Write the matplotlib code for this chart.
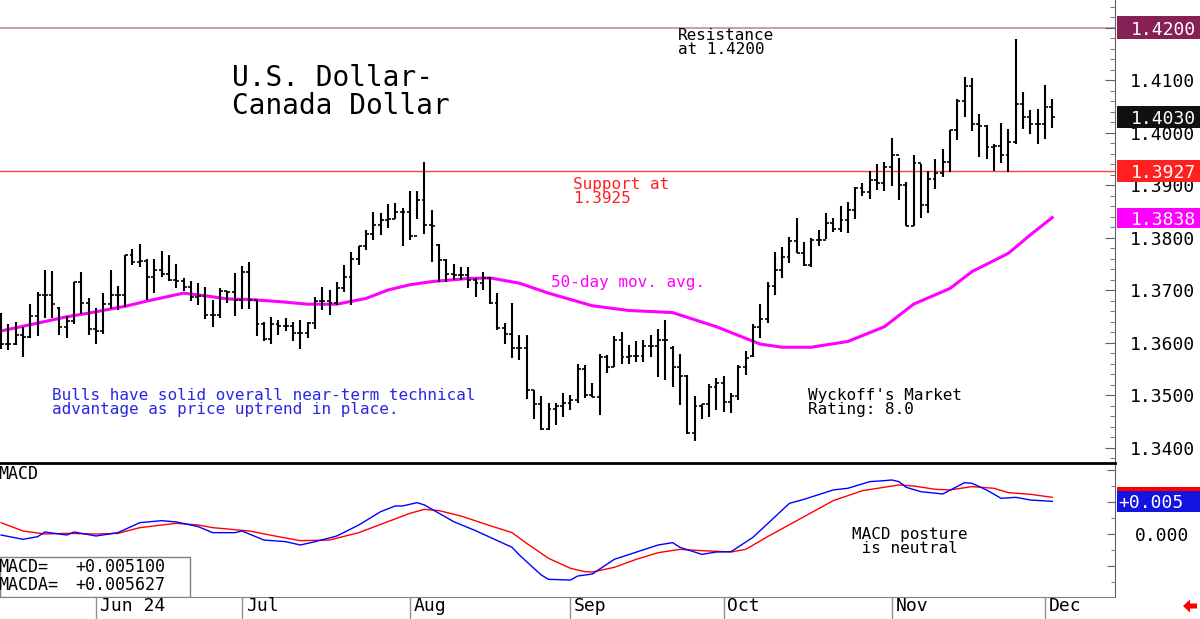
import matplotlib
matplotlib.use('Agg')
import matplotlib.pyplot as plt
import matplotlib.transforms as mtransforms
from matplotlib.patches import Rectangle, Polygon
from matplotlib.ticker import MultipleLocator, FuncFormatter, FormatStrFormatter
import numpy as np
import pandas as pd

# daily bars, 15 May 2024 .. 3 Dec 2024
dates = pd.bdate_range('2024-05-15', '2024-12-03')

opens = [1.3620, 1.3598, 1.3597, 1.3614, 1.3611, 1.3650, 1.3690, 1.3690, 1.3665, 1.3630,
         1.3641, 1.3716, 1.3676, 1.3626, 1.3622, 1.3673, 1.3691, 1.3691, 1.3767, 1.3754,
         1.3755, 1.3724, 1.3738, 1.3730, 1.3719, 1.3718, 1.3705, 1.3687, 1.3689, 1.3652,
         1.3652, 1.3698, 1.3697, 1.3681, 1.3734, 1.3681,
         1.3636, 1.3607, 1.3636, 1.3632, 1.3632, 1.3618, 1.3618, 1.3637, 1.3680, 1.3680,
         1.3675, 1.3703, 1.3725, 1.3760, 1.3783, 1.3807, 1.3824, 1.3833, 1.3835, 1.3849,
         1.3849, 1.3803, 1.3871, 1.3824, 1.3785, 1.3757, 1.3730, 1.3729, 1.3729, 1.3719,
         1.3713, 1.3722,
         1.3675, 1.3627, 1.3617, 1.3589, 1.3589, 1.3509, 1.3482, 1.3436, 1.3474, 1.3479,
         1.3485, 1.3490, 1.3549, 1.3500, 1.3497, 1.3573, 1.3554, 1.3605, 1.3572, 1.3574,
         1.3574, 1.3593, 1.3593, 1.3605, 1.3590, 1.3554, 1.3536, 1.3427, 1.3479, 1.3483,
         1.3516, 1.3522, 1.3487, 1.3498, 1.3554,
         1.3575, 1.3630, 1.3644, 1.3708, 1.3739, 1.3762, 1.3794, 1.3771, 1.3748, 1.3795,
         1.3795, 1.3827, 1.3816, 1.3833, 1.3852, 1.3894, 1.3887, 1.3910, 1.3903, 1.3935,
         1.3957, 1.3900, 1.3822, 1.3941, 1.3862, 1.3911, 1.3923, 1.3943, 1.4005, 1.4060,
         1.4089, 1.4016, 1.4012, 1.3973, 1.3974, 1.3957, 1.3982, 1.4054, 1.4029, 1.4016,
         1.4017, 1.4048]
highs = [1.3657, 1.3636, 1.3640, 1.3630, 1.3673, 1.3696, 1.3738, 1.3736, 1.3668, 1.3651,
         1.3716, 1.3735, 1.3685, 1.3665, 1.3695, 1.3739, 1.3708, 1.3767, 1.3778, 1.3788,
         1.3760, 1.3760, 1.3775, 1.3767, 1.3749, 1.3722, 1.3718, 1.3714, 1.3705, 1.3681,
         1.3703, 1.3699, 1.3733, 1.3746, 1.3754, 1.3681,
         1.3640, 1.3649, 1.3642, 1.3646, 1.3640, 1.3643, 1.3640, 1.3687, 1.3706, 1.3700,
         1.3715, 1.3748, 1.3772, 1.3784, 1.3814, 1.3848, 1.3846, 1.3863, 1.3865, 1.3857,
         1.3889, 1.3889, 1.3944, 1.3852, 1.3788, 1.3760, 1.3749, 1.3744, 1.3744, 1.3722,
         1.3735, 1.3725,
         1.3694, 1.3638, 1.3676, 1.3614, 1.3614, 1.3509, 1.3498, 1.3484, 1.3485, 1.3503,
         1.3500, 1.3560, 1.3557, 1.3522, 1.3578, 1.3576, 1.3612, 1.3620, 1.3595, 1.3602,
         1.3605, 1.3614, 1.3625, 1.3643, 1.3593, 1.3578, 1.3538, 1.3498, 1.3483, 1.3521,
         1.3532, 1.3536, 1.3504, 1.3557, 1.3584,
         1.3635, 1.3673, 1.3716, 1.3773, 1.3782, 1.3801, 1.3838, 1.3792, 1.3800, 1.3814,
         1.3847, 1.3837, 1.3860, 1.3867, 1.3897, 1.3903, 1.3927, 1.3940, 1.3944, 1.3989,
         1.3951, 1.3906, 1.3957, 1.3940, 1.3927, 1.3949, 1.3968, 1.4005, 1.4064, 1.4106,
         1.4103, 1.4035, 1.4014, 1.3978, 1.4019, 1.4006, 1.4179, 1.4078, 1.4043, 1.4045,
         1.4090, 1.4064]
lows = [1.3587, 1.3586, 1.3595, 1.3573, 1.3608, 1.3613, 1.3646, 1.3646, 1.3614, 1.3608,
        1.3635, 1.3655, 1.3614, 1.3597, 1.3616, 1.3663, 1.3662, 1.3668, 1.3748, 1.3744,
        1.3681, 1.3694, 1.3724, 1.3718, 1.3703, 1.3699, 1.3680, 1.3672, 1.3644, 1.3629,
        1.3646, 1.3675, 1.3650, 1.3663, 1.3664, 1.3612,
        1.3602, 1.3597, 1.3614, 1.3621, 1.3602, 1.3587, 1.3608, 1.3625, 1.3662, 1.3652,
        1.3671, 1.3697, 1.3671, 1.3748, 1.3776, 1.3795, 1.3805, 1.3819, 1.3835, 1.3784,
        1.3795, 1.3835, 1.3807, 1.3753, 1.3716, 1.3716, 1.3719, 1.3719, 1.3703, 1.3687,
        1.3700, 1.3673,
        1.3624, 1.3598, 1.3570, 1.3567, 1.3492, 1.3455, 1.3434, 1.3434, 1.3443, 1.3459,
        1.3471, 1.3485, 1.3494, 1.3497, 1.3462, 1.3541, 1.3553, 1.3560, 1.3560, 1.3562,
        1.3562, 1.3573, 1.3535, 1.3529, 1.3515, 1.3481, 1.3426, 1.3413, 1.3455, 1.3459,
        1.3471, 1.3468, 1.3466, 1.3490, 1.3538,
        1.3572, 1.3608, 1.3638, 1.3690, 1.3722, 1.3752, 1.3770, 1.3746, 1.3744, 1.3783,
        1.3797, 1.3811, 1.3811, 1.3809, 1.3835, 1.3879, 1.3873, 1.3890, 1.3889, 1.3898,
        1.3871, 1.3821, 1.3821, 1.3838, 1.3846, 1.3892, 1.3916, 1.3925, 1.3986, 1.4030,
        1.4002, 1.3954, 1.3949, 1.3927, 1.3941, 1.3925, 1.3979, 1.4006, 1.3997, 1.3979,
        1.3987, 1.4008]
closes = [1.3598, 1.3597, 1.3614, 1.3611, 1.3650, 1.3690, 1.3690, 1.3673, 1.3630, 1.3641,
          1.3716, 1.3676, 1.3626, 1.3622, 1.3673, 1.3691, 1.3691, 1.3767, 1.3754, 1.3755,
          1.3724, 1.3738, 1.3730, 1.3719, 1.3718, 1.3705, 1.3687, 1.3689, 1.3652, 1.3652,
          1.3698, 1.3697, 1.3681, 1.3734, 1.3681, 1.3636,
          1.3607, 1.3636, 1.3632, 1.3632, 1.3618, 1.3618, 1.3637, 1.3680, 1.3680, 1.3675,
          1.3703, 1.3725, 1.3760, 1.3783, 1.3807, 1.3824, 1.3833, 1.3835, 1.3849, 1.3849,
          1.3803, 1.3871, 1.3824, 1.3822, 1.3757, 1.3730, 1.3729, 1.3729, 1.3719, 1.3713,
          1.3722, 1.3675,
          1.3627, 1.3617, 1.3589, 1.3589, 1.3509, 1.3482, 1.3436, 1.3474, 1.3479, 1.3485,
          1.3490, 1.3549, 1.3500, 1.3497, 1.3573, 1.3554, 1.3605, 1.3572, 1.3574, 1.3574,
          1.3593, 1.3593, 1.3605, 1.3605, 1.3554, 1.3536, 1.3427, 1.3479, 1.3483, 1.3516,
          1.3522, 1.3487, 1.3498, 1.3554, 1.3570,
          1.3630, 1.3644, 1.3708, 1.3739, 1.3762, 1.3794, 1.3771, 1.3748, 1.3795, 1.3795,
          1.3827, 1.3816, 1.3833, 1.3852, 1.3894, 1.3887, 1.3910, 1.3903, 1.3935, 1.3957,
          1.3900, 1.3822, 1.3941, 1.3862, 1.3911, 1.3923, 1.3943, 1.4005, 1.4060, 1.4089,
          1.4016, 1.4012, 1.3973, 1.3974, 1.3957, 1.3982, 1.4054, 1.4029, 1.4016, 1.4017,
          1.4048, 1.4030]

# 50-day moving average (bar number, value)
ma_pos = [0, 4, 9, 12, 17, 20, 25, 28, 31, 34, 38, 42, 46, 50, 53, 56, 59, 64, 67, 71,
          75, 81, 86, 92, 98, 102, 104, 107, 111, 116, 121, 125, 130, 133, 138, 141, 144]
ma_vals = [1.3622, 1.3634, 1.3649, 1.3656, 1.3669, 1.3679, 1.3694, 1.3689, 1.3683, 1.3682,
           1.3678, 1.3673, 1.3673, 1.3684, 1.3700, 1.3710, 1.3716, 1.3722, 1.3723, 1.3713,
           1.3694, 1.3670, 1.3661, 1.3657, 1.3630, 1.3608, 1.3597, 1.3591, 1.3591, 1.3602,
           1.3630, 1.3673, 1.3703, 1.3735, 1.3770, 1.3805, 1.3838]

# MACD (blue) and MACDA signal (red)
macd_pos = [0, 3, 5, 6, 9, 10, 13, 16, 19, 22, 24, 27, 29, 32, 33, 36, 39, 41, 43, 46,
            49, 52, 54, 55, 57, 58, 62, 65, 66, 70, 71, 74, 75, 78, 79, 81, 84, 90, 92, 93,
            96, 98, 100, 103, 108, 110, 114, 116, 119, 121, 122, 123, 124, 126, 129, 132,
            133, 135, 137, 139, 141, 144]
macd_vals = [-0.00016, -0.00083, -0.00042, 0.00031, -0.00016, 0.00031, -0.00031, 0.00021,
             0.00177, 0.00208, 0.00188, 0.00115, 0.00021, 0.00021, 0.00047, -0.00094,
             -0.00120, -0.00172, -0.00120, -0.00031, 0.00141, 0.00349, 0.00438, 0.00438,
             0.00490, 0.00453, 0.00193, 0.00052, 0.0, -0.00208, -0.00328, -0.00641,
             -0.00708, -0.00719, -0.00656, -0.00625, -0.00396, -0.00172, -0.00135, -0.00208,
             -0.00318, -0.00281, -0.00276, -0.00052, 0.00479, 0.00542, 0.00688, 0.00714,
             0.00818, 0.00833, 0.00844, 0.00818, 0.00729, 0.00661, 0.00625, 0.00802,
             0.00792, 0.00688, 0.00557, 0.00573, 0.00531, 0.00510]
sig_pos = [0, 3, 6, 9, 13, 16, 19, 24, 27, 29, 34, 38, 41, 45, 49, 53, 56, 58, 60, 63,
           66, 70, 72, 75, 78, 80, 81, 84, 87, 90, 93, 96, 100, 102, 105, 110, 114, 118,
           123, 125, 128, 130, 133, 136, 138, 141, 144]
sig_vals = [0.00177, 0.00047, 0.0, 0.00010, 0.0, 0.00010, 0.00099, 0.00167, 0.00141,
            0.00099, 0.00047, -0.00042, -0.00104, -0.00094, 0.00021, 0.00193, 0.00323,
            0.00385, 0.00365, 0.00281, 0.00167, 0.00021, -0.00146, -0.00380, -0.00536,
            -0.00589, -0.00594, -0.00521, -0.00396, -0.00292, -0.00240, -0.00260,
            -0.00281, -0.00240, -0.00042, 0.00271, 0.00521, 0.00677, 0.00766, 0.00750,
            0.00698, 0.00688, 0.00740, 0.00714, 0.00646, 0.00620, 0.00573]

month_labels = ['Jun 24', 'Jul', 'Aug', 'Sep', 'Oct', 'Nov', 'Dec']
resistance = 1.4200
support = 1.3927
ma_last = 1.3838
macd_last = 0.005100
macda_last = 0.005627

mono = 'DejaVu Sans Mono'
W, H = 1200, 619

fig = plt.figure(figsize=(12, 6.19), dpi=100)
ax = fig.add_axes([0, 156 / H, 1115 / W, 463 / H])
mx = fig.add_axes([0, 22 / H, 1115 / W, 134 / H], sharex=ax)

x = np.arange(len(closes))

# price bars
ax.vlines(x, lows, highs, color='black', lw=1.5, zorder=3)
ax.hlines(opens, x - 0.4, x, color='black', lw=1.2, zorder=3)
ax.hlines(closes, x, x + 0.4, color='black', lw=1.2, zorder=3)
ax.plot(ma_pos, ma_vals, color='#FF00FF', lw=2.2, zorder=2)
ax.axhline(resistance, color='#C08CA0', lw=1.2, zorder=1)
ax.axhline(support, color='#FF4040', lw=1.0, zorder=1)

ax.set_xlim(-0.15, 152.6)
ax.set_ylim(1.33705, 1.42524)
for s in ['top', 'left', 'bottom']:
    ax.spines[s].set_visible(False)
ax.spines['right'].set_color('#606060')
ax.yaxis.tick_right()
ax.yaxis.set_major_locator(MultipleLocator(0.01))
ax.yaxis.set_minor_locator(MultipleLocator(0.002))
ax.yaxis.set_major_formatter(FormatStrFormatter('%.4f'))
ax.tick_params(axis='y', which='major', direction='in', length=7, pad=11,
               labelsize=13, colors='#606060', labelcolor='black')
ax.tick_params(axis='y', which='minor', direction='in', length=3.5, colors='#606060')
for lab in ax.get_yticklabels():
    lab.set_family(mono)
ax.tick_params(axis='x', which='both', bottom=False, labelbottom=False)

# MACD panel
mx.plot(sig_pos, sig_vals, color='#FF0000', lw=1.0)
mx.plot(macd_pos, macd_vals, color='#0000FF', lw=1.0)
mx.set_ylim(-0.00984, 0.01109)
mx.spines['top'].set_color('black')
mx.spines['top'].set_linewidth(2)
mx.spines['left'].set_visible(False)
mx.spines['bottom'].set_color('#808080')
mx.spines['right'].set_color('#606060')
mx.yaxis.tick_right()
mx.yaxis.set_major_locator(MultipleLocator(0.005))
mx.yaxis.set_minor_locator(MultipleLocator(0.0025))
mx.yaxis.set_major_formatter(FuncFormatter(lambda v, p: '0.000' if abs(v) < 1e-9 else ''))
mx.tick_params(axis='y', which='major', direction='in', length=6, pad=14,
               labelsize=13, colors='#606060', labelcolor='black')
mx.tick_params(axis='y', which='minor', direction='in', length=3, colors='#606060')
for lab in mx.get_yticklabels():
    lab.set_family(mono)

# month separators and labels
month_pos = []
for m in [6, 7, 8, 9, 10, 11, 12]:
    month_pos.append(int(np.where(dates.month == m)[0][0]))
mx.set_xticks(month_pos)
mx.set_xticklabels([])
mx.tick_params(axis='x', direction='out', length=16, width=1, colors='#909090')
xt = mtransforms.blended_transform_factory(mx.transData, mx.transAxes)
for p, lab in zip(month_pos, month_labels):
    mx.text(p + 0.5, -0.067, lab, transform=xt, ha='left', va='center',
            fontsize=13, family=mono, clip_on=False)

# value boxes on the right
def value_box(axis, val, text, color, h, tx=1196 / W, ha='right'):
    tr = mtransforms.blended_transform_factory(fig.transFigure, axis.transData)
    axis.add_patch(Rectangle((1117 / W, val - h / 2), 1 - 1117 / W, h, transform=tr,
                             facecolor=color, edgecolor='none', clip_on=False, zorder=5))
    axis.text(tx, val, text, transform=tr, ha=ha, va='center_baseline', color='white',
              fontsize=13, family=mono, clip_on=False, zorder=6)

value_box(ax, resistance, '%.4f' % resistance, '#862055', 0.0042)
value_box(ax, closes[-1], '%.4f' % closes[-1], '#111111', 0.0042)
value_box(ax, support, '%.4f' % support, '#FF2020', 0.0042)
value_box(ax, ma_last, '%.4f' % ma_last, '#FF00FF', 0.0038)
value_box(mx, macda_last, '', '#FF0000', 0.0033)
value_box(mx, macd_last, '+%.3f' % macd_last, '#1414E0', 0.0033, tx=1118 / W, ha='left')

# annotations, main panel
def at(px, py):
    return px / 1115, 1 - py / 463

ax.text(*at(232, 64), 'U.S. Dollar-\nCanada Dollar', transform=ax.transAxes, ha='left',
        va='top', fontsize=20, family=mono, linespacing=1.0)
ax.text(*at(678, 28), 'Resistance\nat 1.4200', transform=ax.transAxes, ha='left',
        va='top', fontsize=11.5, family=mono, linespacing=0.95)
ax.text(*at(573, 177), 'Support at\n1.3925', transform=ax.transAxes, ha='left',
        va='top', fontsize=11.5, family=mono, linespacing=0.95, color='#FF2020')
ax.text(*at(551, 283), '50-day mov. avg.', transform=ax.transAxes, ha='left',
        va='center', fontsize=11.5, family=mono, color='#FF00FF')
ax.text(*at(52, 388), 'Bulls have solid overall near-term technical\n'
        'advantage as price uptrend in place.', transform=ax.transAxes, ha='left',
        va='top', fontsize=11.5, family=mono, linespacing=0.95, color='#2828E6')
ax.text(*at(808, 388), "Wyckoff's Market\nRating: 8.0", transform=ax.transAxes,
        ha='left', va='top', fontsize=11.5, family=mono, linespacing=0.95)

# annotations, MACD panel
def mat(px, py):
    return px / 1115, (597 - py) / 134

mx.text(*mat(-2, 474), 'MACD', transform=mx.transAxes, ha='left', va='center',
        fontsize=12, family=mono)
mx.text(*mat(852, 527), 'MACD posture\n is neutral', transform=mx.transAxes, ha='left',
        va='top', fontsize=11.5, family=mono, linespacing=0.95)
mx.add_patch(Rectangle((0, 0), 190 / 1115, 40 / 134, transform=mx.transAxes,
                       facecolor='white', edgecolor='#808080', lw=1, zorder=4))
mx.text(*mat(-2, 567), 'MACD=', transform=mx.transAxes, ha='left', va='center',
        fontsize=12, family=mono, zorder=5)
mx.text(*mat(75, 567), '+%.6f' % macd_last, transform=mx.transAxes, ha='left',
        va='center', fontsize=12, family=mono, zorder=5)
mx.text(*mat(-2, 585), 'MACDA=', transform=mx.transAxes, ha='left', va='center',
        fontsize=12, family=mono, zorder=5)
mx.text(*mat(75, 585), '+%.6f' % macda_last, transform=mx.transAxes, ha='left',
        va='center', fontsize=12, family=mono, zorder=5)

# small red arrow, bottom right
arrow = [(11.83, 0.13), (11.90, 0.195), (11.90, 0.155), (11.97, 0.155),
         (11.97, 0.105), (11.90, 0.105), (11.90, 0.065)]
fig.patches.append(Polygon(arrow, closed=True, transform=fig.dpi_scale_trans,
                           facecolor='#FF0000', edgecolor='none'))

fig.savefig('out.png', dpi=100)
